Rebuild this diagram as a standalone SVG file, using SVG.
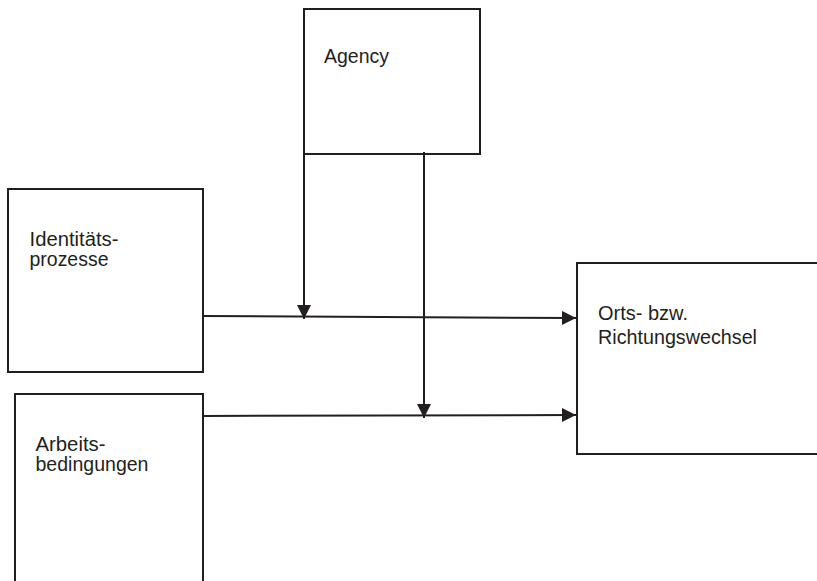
<svg xmlns="http://www.w3.org/2000/svg" width="817" height="581" viewBox="0 0 817 581">
<style>
.box{fill:#fff;stroke:#231f20;stroke-width:2}
.lbl{font-family:"Liberation Sans",Arial,sans-serif;fill:#231f20;font-size:19.5px}
.con{fill:none;stroke:#231f20;stroke-width:2}
</style>
<defs>
<marker id="arr" markerUnits="userSpaceOnUse" markerWidth="15" markerHeight="15" refX="14" refY="7" orient="auto" viewBox="0 0 15 15">
<path d="M0,0 L14,7 L0,14 z" fill="#231f20"/>
</marker>
</defs>
<rect width="817" height="581" fill="#fff"/>
<g id="agency">
<rect class="box" x="304" y="9" width="176" height="145"/>
<text class="lbl" x="324" y="62.5" textLength="65" lengthAdjust="spacingAndGlyphs">Agency</text>
</g>
<g id="identitaet">
<rect class="box" x="8" y="189" width="195" height="183"/>
<text class="lbl" x="29.5" y="245.5" textLength="89" lengthAdjust="spacingAndGlyphs">Identitäts-</text>
<text class="lbl" x="29.5" y="266" textLength="79" lengthAdjust="spacingAndGlyphs">prozesse</text>
</g>
<g id="arbeit">
<rect class="box" x="15" y="394" width="188" height="200"/>
<text class="lbl" x="35.5" y="450.5" textLength="70" lengthAdjust="spacingAndGlyphs">Arbeits-</text>
<text class="lbl" x="35.5" y="471" textLength="113" lengthAdjust="spacingAndGlyphs">bedingungen</text>
</g>
<g id="orts">
<rect class="box" x="577" y="263" width="250" height="191"/>
<text class="lbl" x="598" y="319.5" textLength="90" lengthAdjust="spacingAndGlyphs">Orts- bzw.</text>
<text class="lbl" x="598" y="343.5" textLength="159" lengthAdjust="spacingAndGlyphs">Richtungswechsel</text>
</g>
<g id="connectors">
<path class="con" d="M203,316 L576,318" marker-end="url(#arr)"/>
<path class="con" d="M203,416 L576,415" marker-end="url(#arr)"/>
<path class="con" d="M304,154 L304,319" marker-end="url(#arr)"/>
<path class="con" d="M424,152 L424,418" marker-end="url(#arr)"/>
</g>
</svg>
